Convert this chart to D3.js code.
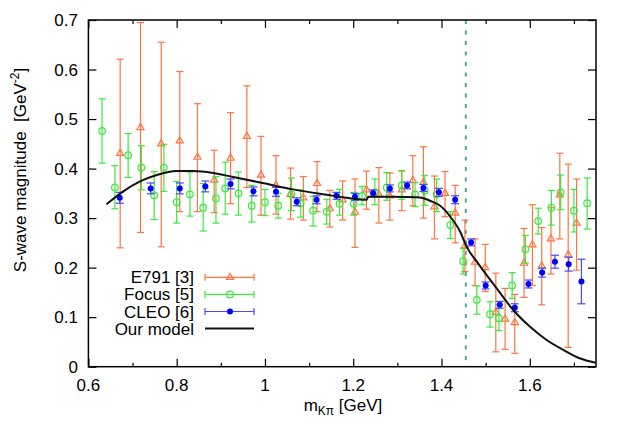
<!DOCTYPE html>
<html>
<head>
<meta charset="utf-8">
<script src="https://cdn.jsdelivr.net/npm/d3@7"></script>
<style>
  body { margin: 0; background: #fff; }
  svg text { font-family: "Liberation Sans", Arial, sans-serif; fill: #000; }
</style>
</head>
<body>
<svg id="chart" width="623" height="437"></svg>
<script>
// E791 [3]: mass, value, low, high
const e791 = [
  [0.672, 0.431, 0.240, 0.621], [0.718, 0.483, 0.271, 0.695], [0.765, 0.450, 0.242, 0.655],
  [0.807, 0.456, 0.313, 0.596], [0.847, 0.423, 0.313, 0.531], [0.885, 0.377, 0.311, 0.437],
  [0.922, 0.421, 0.329, 0.513], [0.959, 0.465, 0.362, 0.567], [0.991, 0.387, 0.306, 0.465],
  [1.025, 0.366, 0.308, 0.426], [1.058, 0.348, 0.298, 0.401], [1.087, 0.341, 0.296, 0.384],
  [1.118, 0.370, 0.313, 0.414], [1.147, 0.319, 0.282, 0.356], [1.176, 0.337, 0.296, 0.375],
  [1.204, 0.312, 0.241, 0.379], [1.230, 0.357, 0.318, 0.395], [1.258, 0.348, 0.290, 0.402],
  [1.283, 0.345, 0.296, 0.391], [1.310, 0.357, 0.315, 0.396], [1.335, 0.376, 0.325, 0.426],
  [1.359, 0.372, 0.300, 0.444], [1.384, 0.323, 0.258, 0.385], [1.408, 0.350, 0.303, 0.394],
  [1.431, 0.310, 0.250, 0.366], [1.453, 0.244, 0.192, 0.296], [1.476, 0.211, 0.164, 0.258],
  [1.499, 0.200, 0.152, 0.247], [1.523, 0.110, 0.030, 0.189], [1.544, 0.096, 0.035, 0.158],
  [1.566, 0.089, 0.027, 0.146], [1.587, 0.209, 0.140, 0.279], [1.606, 0.246, 0.164, 0.327],
  [1.627, 0.203, 0.125, 0.281], [1.648, 0.258, 0.187, 0.321], [1.668, 0.347, 0.258, 0.431],
  [1.687, 0.226, 0.039, 0.409], [1.706, 0.290, 0.195, 0.379]
];

// Focus [5]
const focus = [
  [0.631, 0.476, 0.411, 0.541], [0.660, 0.362, 0.319, 0.406], [0.690, 0.427, 0.382, 0.471],
  [0.720, 0.402, 0.357, 0.446], [0.749, 0.346, 0.297, 0.394], [0.771, 0.402, 0.354, 0.449],
  [0.800, 0.332, 0.290, 0.374], [0.830, 0.348, 0.304, 0.393], [0.860, 0.321, 0.274, 0.370],
  [0.889, 0.340, 0.290, 0.384], [0.910, 0.360, 0.308, 0.413], [0.940, 0.350, 0.306, 0.393],
  [0.970, 0.325, 0.292, 0.366], [1.000, 0.332, 0.305, 0.358], [1.030, 0.325, 0.300, 0.350],
  [1.060, 0.348, 0.315, 0.381], [1.081, 0.330, 0.302, 0.357], [1.109, 0.315, 0.284, 0.344],
  [1.140, 0.313, 0.288, 0.338], [1.169, 0.329, 0.306, 0.358], [1.201, 0.329, 0.306, 0.352],
  [1.220, 0.345, 0.327, 0.364], [1.249, 0.352, 0.327, 0.379], [1.276, 0.362, 0.336, 0.392],
  [1.310, 0.366, 0.338, 0.395], [1.340, 0.348, 0.323, 0.372], [1.362, 0.356, 0.326, 0.386],
  [1.389, 0.348, 0.313, 0.379], [1.420, 0.286, 0.259, 0.313], [1.449, 0.213, 0.187, 0.239],
  [1.480, 0.135, 0.106, 0.163], [1.510, 0.106, 0.080, 0.131], [1.530, 0.098, 0.073, 0.125],
  [1.560, 0.164, 0.138, 0.190], [1.590, 0.237, 0.209, 0.265], [1.619, 0.294, 0.268, 0.320],
  [1.649, 0.321, 0.286, 0.356], [1.670, 0.352, 0.317, 0.387], [1.700, 0.315, 0.272, 0.358],
  [1.730, 0.330, 0.278, 0.381]
];

// CLEO [6]: mass, value, error
const cleo = [
  [0.671, 0.341, 0.011], [0.741, 0.360, 0.011], [0.807, 0.360, 0.011], [0.865, 0.364, 0.011],
  [0.922, 0.369, 0.010], [0.974, 0.354, 0.009], [1.025, 0.353, 0.009], [1.072, 0.333, 0.008],
  [1.117, 0.337, 0.008], [1.162, 0.345, 0.007], [1.204, 0.343, 0.007], [1.245, 0.350, 0.007],
  [1.283, 0.360, 0.007], [1.322, 0.366, 0.007], [1.359, 0.361, 0.007], [1.394, 0.352, 0.008],
  [1.431, 0.337, 0.008], [1.467, 0.251, 0.007], [1.500, 0.164, 0.007], [1.532, 0.125, 0.007],
  [1.566, 0.119, 0.008], [1.597, 0.167, 0.008], [1.628, 0.190, 0.009], [1.657, 0.212, 0.013],
  [1.688, 0.207, 0.014], [1.717, 0.172, 0.045]
];

// Our model
const model = [
  [0.641, 0.328], [0.679, 0.354], [0.717, 0.374], [0.755, 0.387], [0.800, 0.395],
  [0.838, 0.395], [0.883, 0.391], [0.928, 0.383], [0.989, 0.372], [1.064, 0.358],
  [1.140, 0.347], [1.185, 0.341], [1.230, 0.337], [1.234, 0.343], [1.291, 0.343],
  [1.344, 0.342], [1.366, 0.338], [1.374, 0.335], [1.397, 0.325], [1.419, 0.304],
  [1.442, 0.273], [1.457, 0.242], [1.480, 0.212], [1.525, 0.158], [1.562, 0.115],
  [1.600, 0.081], [1.638, 0.054], [1.676, 0.034], [1.713, 0.017], [1.749, 0.008]
];

const thresholdMass = 1.455;
const xTicks = [0.6, 0.8, 1.0, 1.2, 1.4, 1.6];
const xMinorTicks = [0.7, 0.9, 1.1, 1.3, 1.5, 1.7];
const yTicks = [0, 0.1, 0.2, 0.3, 0.4, 0.5, 0.6, 0.7];
const legendLabels = ["E791 [3]", "Focus [5]", "CLEO [6]", "Our model"];

const orange = "#ff7440", green = "#3ee83e", blue = "#0000ff", blueBar = "#4848ff";

let svg = d3.select('#chart');
let x = d3.scaleLinear().domain([0.6, 1.75]).range([88.4, 596]);
let y = d3.scaleLinear().domain([0, 0.7]).range([366.7, 20]);

// ticks on all four sides, pointing inwards
svg.append('g').attr('transform', 'translate(0,366.7)')
    .call(d3.axisBottom(x).tickValues(xTicks).tickSizeInner(-8).tickSizeOuter(0).tickFormat(''));
svg.append('g').attr('transform', 'translate(0,366.7)')
    .call(d3.axisBottom(x).tickValues(xMinorTicks).tickSizeInner(-4).tickSizeOuter(0).tickFormat(''));
svg.append('g').attr('transform', 'translate(0,20)')
    .call(d3.axisTop(x).tickValues(xTicks).tickSizeInner(-8).tickSizeOuter(0).tickFormat(''));
svg.append('g').attr('transform', 'translate(0,20)')
    .call(d3.axisTop(x).tickValues(xMinorTicks).tickSizeInner(-4).tickSizeOuter(0).tickFormat(''));
svg.append('g').attr('transform', 'translate(88.4,0)')
    .call(d3.axisLeft(y).tickValues(yTicks).tickSizeInner(-8).tickSizeOuter(0).tickFormat(''));
svg.append('g').attr('transform', 'translate(596,0)')
    .call(d3.axisRight(y).tickValues(yTicks).tickSizeInner(-8).tickSizeOuter(0).tickFormat(''));
svg.selectAll('.domain').remove();
svg.selectAll('.tick line').attr('stroke', '#000').attr('stroke-width', 1.2);

// tick labels
svg.append('g').selectAll('text').data(xTicks).enter().append('text')
    .attr('x', d => x(d)).attr('y', 391)
    .attr('text-anchor', 'middle').attr('font-size', '17px')
    .text(d => d3.format('~g')(d));
svg.append('g').selectAll('text').data(yTicks).enter().append('text')
    .attr('x', 78).attr('y', d => y(d) + 6)
    .attr('text-anchor', 'end').attr('font-size', '17px')
    .text(d => d3.format('~g')(d));

// axis titles
let xt = svg.append('text').attr('x', 343).attr('y', 411)
    .attr('text-anchor', 'middle').attr('font-size', '17px');
xt.append('tspan').text('m');
xt.append('tspan').attr('font-size', '12px').attr('dy', 4).text('Kπ');
xt.append('tspan').attr('dy', -4).text(' [GeV]');

let yt = svg.append('text').attr('transform', 'translate(26,170) rotate(-90)')
    .attr('text-anchor', 'middle').attr('font-size', '17px').style('white-space', 'pre');
yt.append('tspan').text('S-wave magnitude  [GeV');
yt.append('tspan').attr('font-size', '12px').attr('dy', -7).text('-2');
yt.append('tspan').attr('dy', 7).text(']');

// threshold line
svg.append('line')
    .attr('x1', x(thresholdMass)).attr('x2', x(thresholdMass))
    .attr('y1', y(0.7)).attr('y2', y(0))
    .attr('stroke', '#4aa8a8').attr('stroke-width', 2)
    .attr('stroke-dasharray', '4,6.5');

function errorBars(g, data, color, lo, hi, cap) {
    let bars = g.selectAll('g.bar').data(data).enter().append('g').classed('bar', true);
    bars.append('line')
        .attr('x1', d => x(d[0])).attr('x2', d => x(d[0]))
        .attr('y1', d => y(lo(d))).attr('y2', d => y(hi(d)));
    bars.append('line')
        .attr('x1', d => x(d[0]) - cap).attr('x2', d => x(d[0]) + cap)
        .attr('y1', d => y(lo(d))).attr('y2', d => y(lo(d)));
    bars.append('line')
        .attr('x1', d => x(d[0]) - cap).attr('x2', d => x(d[0]) + cap)
        .attr('y1', d => y(hi(d))).attr('y2', d => y(hi(d)));
    bars.selectAll('line').attr('stroke', color).attr('stroke-width', 1.2);
    return bars;
}

const tri = d3.symbol().type(d3.symbolTriangle).size(22);

// E791
let gE = svg.append('g');
errorBars(gE, e791, orange, d => d[2], d => d[3], 3.5);
gE.selectAll('path').data(e791).enter().append('path')
    .attr('d', tri)
    .attr('transform', d => 'translate(' + x(d[0]) + ',' + y(d[1]) + ')')
    .attr('fill', 'none').attr('stroke', orange).attr('stroke-width', 1.2);

// Focus
let gF = svg.append('g');
errorBars(gF, focus, green, d => d[2], d => d[3], 3.5);
gF.selectAll('circle').data(focus).enter().append('circle')
    .attr('cx', d => x(d[0])).attr('cy', d => y(d[1])).attr('r', 3.3)
    .attr('fill', 'none').attr('stroke', green).attr('stroke-width', 1.2);

// CLEO
let gC = svg.append('g');
errorBars(gC, cleo, blueBar, d => d[1] - d[2], d => d[1] + d[2], 4);
gC.selectAll('circle').data(cleo).enter().append('circle')
    .attr('cx', d => x(d[0])).attr('cy', d => y(d[1])).attr('r', 3)
    .attr('fill', blue);

// model curve
svg.append('path').datum(model)
    .attr('d', d3.line().x(d => x(d[0])).y(d => y(d[1])).curve(d3.curveMonotoneX))
    .attr('fill', 'none').attr('stroke', '#111').attr('stroke-width', 2);

// frame
svg.append('rect').attr('x', 88.4).attr('y', 20).attr('width', 596 - 88.4).attr('height', 366.7 - 20)
    .attr('fill', 'none').attr('stroke', '#000').attr('stroke-width', 1.5);

// legend
let legend = svg.append('g');
let rows = legend.selectAll('g').data(legendLabels).enter().append('g')
    .attr('transform', (d, i) => 'translate(0,' + (277.3 + i * 17.1) + ')');
rows.append('text').attr('x', 194).attr('y', 6).attr('text-anchor', 'end')
    .attr('font-size', '17px').text(d => d);
const legColors = [orange, green, blueBar, '#111'];
rows.append('line').attr('x1', 205).attr('x2', 254).attr('y1', 0).attr('y2', 0)
    .attr('stroke', (d, i) => legColors[i]).attr('stroke-width', (d, i) => i === 3 ? 2 : 1.2);
rows.filter((d, i) => i < 3).each(function(d, i) {
    let r = d3.select(this);
    [205, 254].forEach(cx => r.append('line').attr('x1', cx).attr('x2', cx).attr('y1', -3.5).attr('y2', 3.5)
        .attr('stroke', legColors[i]).attr('stroke-width', 1.2));
});
legend.append('path').attr('d', tri).attr('transform', 'translate(230,277.3)')
    .attr('fill', 'none').attr('stroke', orange).attr('stroke-width', 1.2);
legend.append('circle').attr('cx', 230).attr('cy', 277.3 + 17.1).attr('r', 3.3)
    .attr('fill', 'none').attr('stroke', green).attr('stroke-width', 1.2);
legend.append('circle').attr('cx', 230).attr('cy', 277.3 + 34.2).attr('r', 3).attr('fill', blue);
</script>
</body>
</html>
